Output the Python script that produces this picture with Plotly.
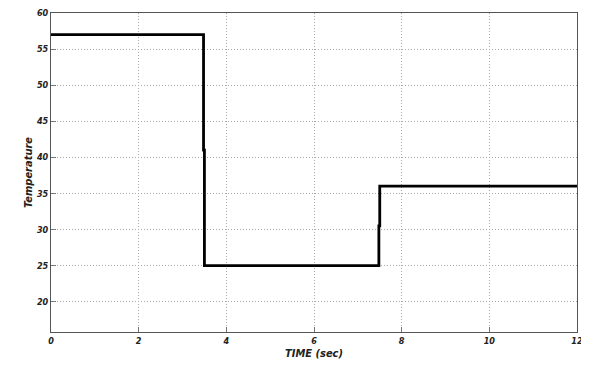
import plotly.graph_objects as go

time_sec = [0, 3.48, 3.48, 3.5, 3.5, 7.48, 7.48, 7.5, 7.5, 12]
temperature = [57, 57, 41, 41, 25, 25, 30.5, 30.5, 36, 36]
x_ticks = [0, 2, 4, 6, 8, 10, 12]
y_ticks = [20, 25, 30, 35, 40, 45, 50, 55, 60]

font_fam = "Liberation Sans Narrow, Arial Narrow, DejaVu Sans Condensed, Liberation Sans, Arial, sans-serif"

fig = go.Figure()
fig.add_trace(go.Scatter(x=time_sec, y=temperature, mode="lines",
                         line=dict(color="black", width=2.8), showlegend=False))

# page body has an 8px margin, so the figure is sized to fit inside the window
fig.update_layout(
    width=579, height=355,
    margin=dict(l=43, r=10, t=5, b=31, autoexpand=False),
    plot_bgcolor="white", paper_bgcolor="white",
    font=dict(family=font_fam, size=9, color="#222222"),
)
fig.update_xaxes(
    range=[0, 12], tickvals=x_ticks, ticktext=[f"<b><i>{v}</i></b>" for v in x_ticks],
    showgrid=True, gridcolor="#a8a8a8", griddash="1px,2px", gridwidth=1,
    showline=True, linecolor="#555555", linewidth=1, mirror=True,
    ticks="inside", ticklen=5, tickcolor="#777777", automargin=False,
    ticklabeloverflow="allow",
    title=dict(text="<b><i>TIME (sec)</i></b>", font=dict(size=11), standoff=4),
    zeroline=False,
)
fig.update_yaxes(
    range=[15.8, 60], tickvals=y_ticks, ticktext=[f"<b><i>{v}</i></b>" for v in y_ticks],
    showgrid=True, gridcolor="#a8a8a8", griddash="1px,2px", gridwidth=1,
    showline=True, linecolor="#555555", linewidth=1, mirror=True,
    ticks="inside", ticklen=5, tickcolor="#777777", automargin=False,
    title=dict(text="<b><i>Temperature</i></b>", font=dict(size=11), standoff=2),
    zeroline=False,
)
fig.write_html("out.html")
